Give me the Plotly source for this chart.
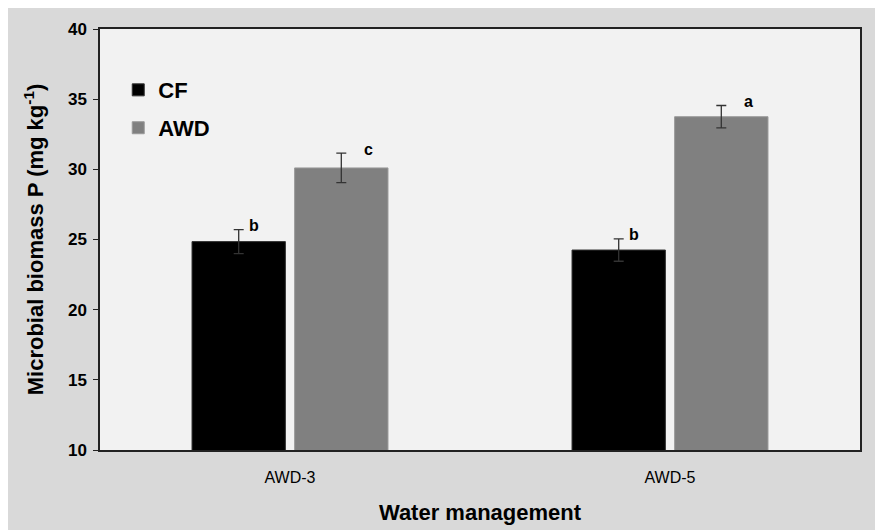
import plotly.graph_objects as go

categories = ["AWD-3", "AWD-5"]
cf_values = [24.85, 24.25]
cf_errors = [0.85, 0.8]
awd_values = [30.1, 33.75]
awd_errors = [1.05, 0.8]
cf_letters = ["b", "b"]
awd_letters = ["c", "a"]
y_ticks = [10, 15, 20, 25, 30, 35, 40]

FONT = "Liberation Sans, Arial, sans-serif"

fig = go.Figure()
fig.add_trace(go.Bar(
    name="<b>CF</b>", x=categories, y=cf_values, legend="legend",
    marker=dict(color="#000000", line=dict(color="#333333", width=1)),
    error_y=dict(type="data", array=cf_errors, color="#333333", thickness=1.3, width=5),
))
fig.add_trace(go.Bar(
    name="<b>AWD</b>", x=categories, y=awd_values, legend="legend2",
    marker=dict(color="#808080", line=dict(color="#9a9a9a", width=1)),
    error_y=dict(type="data", array=awd_errors, color="#333333", thickness=1.3, width=5),
))

for i, c in enumerate(categories):
    fig.add_annotation(x=c, y=cf_values[i] + cf_errors[i], text="<b>%s</b>" % cf_letters[i],
                       xref="x", yref="y", showarrow=False, xshift=-36, yshift=4,
                       font=dict(size=16, color="#000", family=FONT))
    fig.add_annotation(x=c, y=awd_values[i] + awd_errors[i], text="<b>%s</b>" % awd_letters[i],
                       xref="x", yref="y", showarrow=False, xshift=78, yshift=4,
                       font=dict(size=16, color="#000", family=FONT))

leg_common = dict(x=0.024, xanchor="left", yanchor="middle", bgcolor="rgba(0,0,0,0)",
                  font=dict(size=22, color="#000", family=FONT), itemwidth=30)
fig.update_layout(
    width=883, height=530,
    margin=dict(l=92, r=31, t=21, b=88, autoexpand=False),
    paper_bgcolor="#d9d9d9", plot_bgcolor="#f2f2f2",
    barmode="group", bargap=0.46, bargroupgap=0.09,
    showlegend=True,
    legend=dict(y=0.855, **leg_common),
    legend2=dict(y=0.765, **leg_common),
    font=dict(family=FONT, color="#000"),
)
fig.update_xaxes(
    automargin=False,
    showline=True, linecolor="#222", linewidth=1.5, mirror=True, ticks="",
    ticklabelstandoff=12,
    tickfont=dict(size=16, family=FONT, color="#000"),
    title=dict(text="<b>Water management</b>", font=dict(size=22, family=FONT, color="#000"), standoff=20),
)
fig.update_yaxes(
    automargin=False,
    range=[10, 40], tickvals=y_ticks, ticktext=["<b>%d</b>" % t for t in y_ticks],
    showgrid=False, zeroline=False,
    showline=True, linecolor="#222", linewidth=1.5, mirror=True,
    ticks="outside", ticklen=5, tickcolor="#222", ticklabelstandoff=3,
    tickfont=dict(size=17, family=FONT, color="#000"),
    title=dict(text="<b>Microbial biomass P (mg kg<sup>-1</sup>)</b>", font=dict(size=22, family=FONT, color="#000"), standoff=18),
)

fig.write_html("out.html")
